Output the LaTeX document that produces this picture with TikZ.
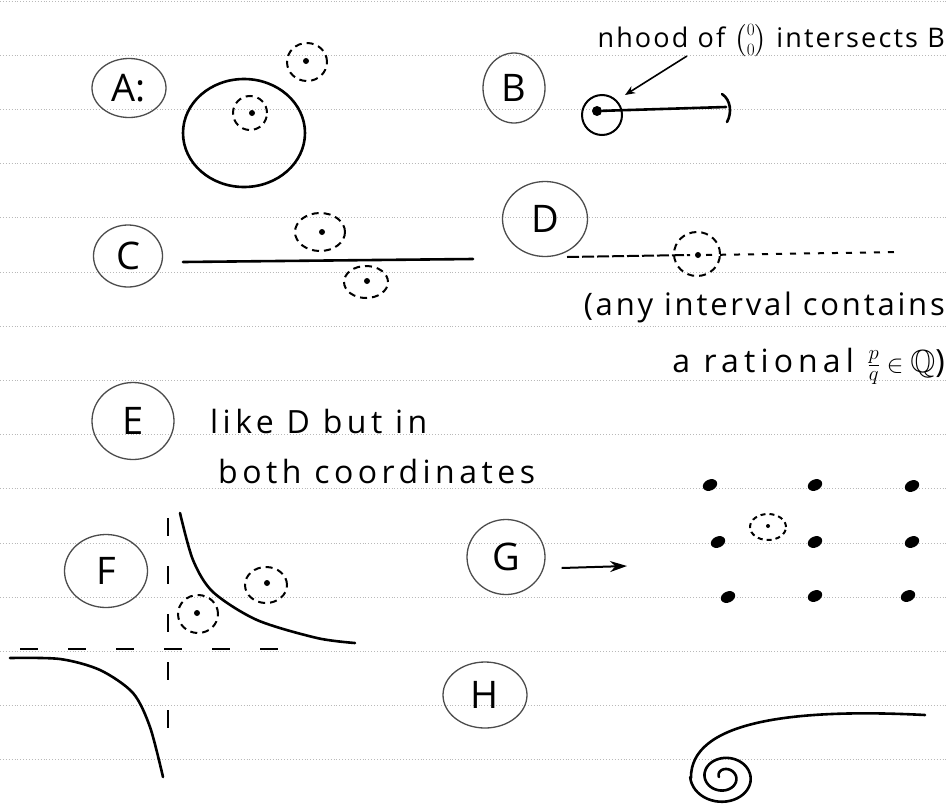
\documentclass[tikz,border=0pt]{standalone}
\usepackage{amsmath}
\usepackage{amssymb}
\usepackage{fontspec}
\setmainfont{Open Sans}
\usetikzlibrary{shapes.geometric, arrows.meta, positioning, calc}

\begin{document}
\begin{tikzpicture}[
        x=1pt, y=-1pt,
        ruled/.style={gray!55, dotted, line width=0.9pt},
        tag/.style={ellipse, draw=black!70, line width=1.3pt, inner sep=0pt, font=\fontsize{38}{42}\selectfont},
        hand/.style={inner sep=0pt, font=\fontsize{31}{36}\selectfont\addfontfeatures{LetterSpace=9}},
        ink/.style={line width=2.6pt, line cap=round},
        nbhd/.style={ellipse, draw, dash pattern=on 7pt off 5pt, line width=2pt, inner sep=0pt},
        dot/.style={circle, fill, inner sep=0pt, minimum size=6pt},
        lattice/.style={ellipse, fill, inner sep=0pt, minimum width=15pt, minimum height=11pt, rotate=25},
        asym/.style={line width=2pt, dash pattern=on 18pt off 30pt},
        pointer/.style={-{Stealth[open, length=10pt, width=8pt]}, line width=1.6pt},
        arrowG/.style={-{Stealth[length=17pt, width=11pt]}, line width=2pt}
    ]
        \fill[white] (0,0) rectangle (947,806);
        \useasboundingbox (0,0) rectangle (947,806);
        \foreach \k in {0,...,14}
            \draw[ruled] (0,{1+54.2*\k}) -- (947,{1+54.2*\k});

        % A: open set
        \node[tag, minimum width=74pt, minimum height=59pt] (tagA) at (129,88) {A:};
        \draw[ink] (244,133) ellipse [x radius=61, y radius=54];
        \node[nbhd, minimum width=34pt, minimum height=34pt] (nbA1) at (250,113) {};
        \node[dot] (ptA1) at (252,113) {};
        \node[nbhd, minimum width=40pt, minimum height=38pt] (nbA2) at (307,62) {};
        \node[dot] (ptA2) at (306,61) {};

        % B: half-open interval
        \node[tag, minimum width=62pt, minimum height=70pt] (tagB) at (514,88) {B};
        \node[hand, font=\fontsize{27}{32}\selectfont\addfontfeatures{LetterSpace=8}, anchor=base east] (note) at (945,47) {nhood of $\binom{0}{0}$ intersects B};
        \node[circle, draw, line width=2pt, minimum size=40pt, inner sep=0pt] (nbB) at (602,115) {};
        \node[dot, minimum size=10pt] (ptB) at (597,111) {};
        \coordinate (bEnd) at (726,107);
        \draw[ink] (ptB) -- (bEnd);
        \draw[ink] (722,94) .. controls (731,100) and (732,113) .. (727,122);
        \coordinate (bTip) at (625,95);
        \coordinate (noteOf) at (687,56);
        \draw[pointer] (noteOf) -- (bTip);

        % C: line
        \node[tag, minimum width=69pt, minimum height=62pt] (tagC) at (128,256) {C};
        \draw[ink] (183,262) -- (473,259);
        \node[nbhd, minimum width=50pt, minimum height=38pt] (nbC1) at (320,232) {};
        \node[dot] (ptC1) at (322,232) {};
        \node[nbhd, minimum width=44pt, minimum height=32pt] (nbC2) at (366,282) {};
        \node[dot] (ptC2) at (367,281) {};

        % D: rationals
        \node[tag, minimum width=85pt, minimum height=75pt] (tagD) at (545,219) {D};
        \draw[line width=2pt, dash pattern=on 12pt off 3pt] (567,257) -- (690,255);
        \draw[line width=2pt, dash pattern=on 6pt off 8pt] (706,255) -- (900,252);
        \node[nbhd, minimum width=46pt, minimum height=44pt] (nbD) at (697,254) {};
        \node[dot] (ptD) at (698,255) {};
        \node[hand, anchor=base east] (anyInt) at (945,315) {(any interval contains};
        \node[hand, anchor=base east, font=\fontsize{32}{36}\selectfont\addfontfeatures{LetterSpace=16}] (rational) at (945,372) {a rational $\frac{p}{q}\in\mathbb{Q}$)};

        % E
        \node[tag, minimum width=82pt, minimum height=77pt] (tagE) at (133,421) {E};
        \node[hand, anchor=base west, font=\fontsize{32}{36}\selectfont\addfontfeatures{LetterSpace=14}] (likeD) at (210,433) {like D but in};
        \node[hand, anchor=base west, font=\fontsize{32}{36}\selectfont\addfontfeatures{LetterSpace=14}] (bothCo) at (218,483) {both coordinates};

        % F: hyperbola
        \node[tag, minimum width=83pt, minimum height=73pt] (tagF) at (106,571) {F};
        \draw[asym] (168,518) -- (168,740);
        \draw[asym] (20,649) -- (290,649);
        \draw[ink] plot[smooth] coordinates {(180,513) (193,560) (213,592) (257,620) (317,638) (355,643)};
        \draw[ink] plot[smooth] coordinates {(10,658) (60,659) (100,670) (133,693) (150,727) (163,777)};
        \node[nbhd, minimum width=40pt, minimum height=38pt] (nbF1) at (198,614) {};
        \node[dot] (ptF1) at (197,613) {};
        \node[nbhd, minimum width=42pt, minimum height=36pt] (nbF2) at (266,585) {};
        \node[dot] (ptF2) at (267,583) {};

        % G: lattice
        \node[tag, minimum width=78pt, minimum height=75pt] (tagG) at (506,557) {G};
        \coordinate (gTip) at (627,566);
        \draw[arrowG] ([xshift=16pt, yshift=-11pt]tagG.east) -- (gTip);
        \foreach \gx/\gy [count=\i] in {710/485, 815/485, 912/486, 718/542, 815/542, 912/542, 728/597, 815/596, 908/596}
            \node[lattice] (g\i) at (\gx,\gy) {};
        \node[nbhd, minimum width=36pt, minimum height=26pt, dash pattern=on 5pt off 4pt] (nbG) at (768,527) {};
        \node[dot, minimum size=4pt] (ptG) at (768,526) {};

        % H: spiral
        \node[tag, minimum width=84pt, minimum height=66pt] (tagH) at (485,695) {H};
        \draw[ink] (925,715) .. controls (790,708) and (690,722) .. (691,778);
        \draw[ink] plot[domain=180:-540, samples=100, smooth] ({724+(5+(\x+540)/25)*cos(\x)}, {777+(5+(\x+540)/32)*sin(\x)});
    \end{tikzpicture}
\end{document}
